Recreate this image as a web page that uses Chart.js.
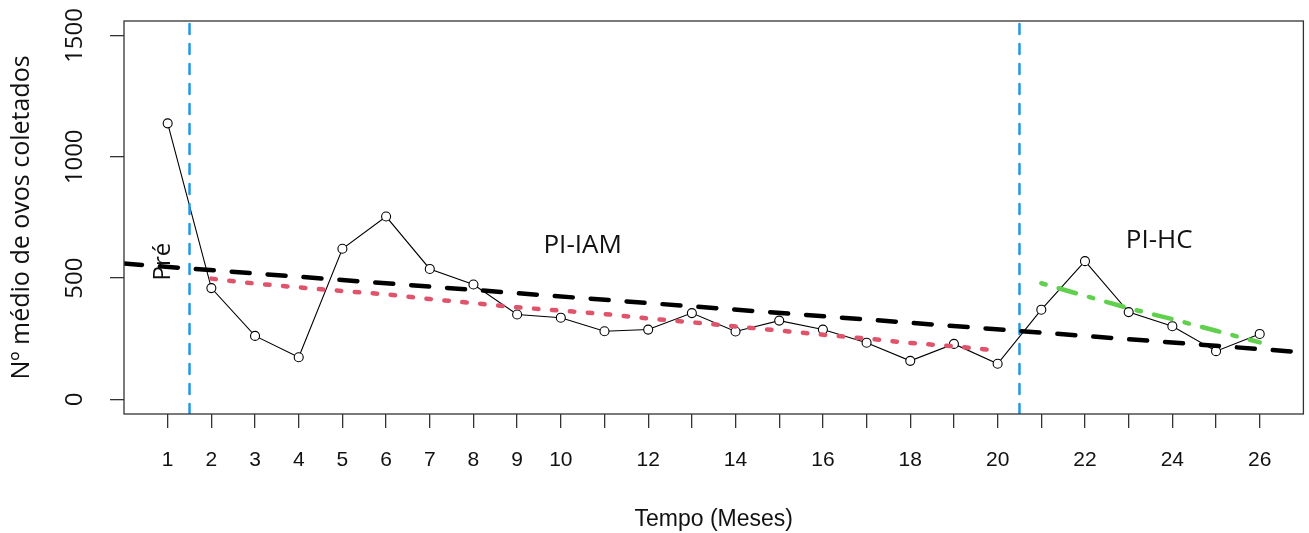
<!DOCTYPE html>
<html>
<head>
<meta charset="utf-8">
<script src="https://cdn.jsdelivr.net/npm/chart.js@4.4.1/dist/chart.umd.min.js"></script>
<style>
  html, body { margin: 0; padding: 0; background: #fff; }
  canvas { display: block; }
</style>
</head>
<body>
<canvas id="chart" width="1309" height="533"></canvas>
<script>
// média mensal de ovos coletados
const months = [1, 2, 3, 4, 5, 6, 7, 8, 9, 10, 11, 12, 13, 14, 15, 16, 17, 18, 19, 20, 21, 22, 23, 24, 25, 26];
const eggs = [1138, 459, 262, 174, 621, 754, 538, 474, 350, 337, 281, 288, 356, 280, 325, 288, 234, 159, 229, 147, 370, 570, 360, 302, 199, 270];

// ajuste PI-IAM (vermelho)
const iamMonths = [2, 3, 4, 5, 6, 7, 8, 9, 10, 11, 12, 13, 14, 15, 16, 17, 18, 19, 20];
const iamFit = [498, 478, 462, 447, 433, 414, 397, 380, 366, 352, 334, 318, 301, 284, 267, 251, 233, 219, 201];

// ajuste PI-HC (verde)
const hcMonths = [21, 22, 23, 24, 25, 26];
const hcFit = [479, 427, 376, 331, 283, 235];

// tendência geral (preto)
const trendMonths = [0, 27];
const trendFit = [560, 194];

// mudanças de fase
const phaseBreaks = [1.5, 20.5];

const xTicks = months;
const xLabels = [1, 2, 3, 4, 5, 6, 7, 8, 9, 10, 12, 14, 16, 18, 20, 22, 24, 26];
const yTicks = [0, 500, 1000, 1500];
const yMin = -60, yMax = 1560;

const notes = [
  { text: 'Pré', x: 1.05, y: 568, rotate: true, size: 24 },
  { text: 'PI-IAM', x: 10.5, y: 603, rotate: false, size: 26 },
  { text: 'PI-HC', x: 23.7, y: 624, rotate: false, size: 26 }
];

const pts = (xs, ys) => xs.map((v, i) => ({ x: v, y: ys[i] }));
const W = 4.5;

const rDecor = {
  id: 'rDecor',
  afterDraw(chart) {
    const { ctx, chartArea: a, scales: { x, y } } = chart;
    ctx.save();
    ctx.strokeStyle = '#333';
    ctx.lineWidth = 1.3;
    ctx.strokeRect(a.left, a.top, a.right - a.left, a.bottom - a.top);

    ctx.fillStyle = '#111';
    ctx.textAlign = 'center';
    ctx.textBaseline = 'alphabetic';
    ctx.font = '24px "Open Sans"';
    yTicks.forEach(v => {
      ctx.save();
      ctx.translate(a.left - 42, y.getPixelForValue(v));
      ctx.rotate(-Math.PI / 2);
      ctx.fillText(String(v), 0, 0);
      ctx.restore();
    });

    notes.forEach(n => {
      ctx.save();
      ctx.font = n.size + 'px "Open Sans"';
      ctx.translate(x.getPixelForValue(n.x), y.getPixelForValue(n.y));
      if (n.rotate) ctx.rotate(-Math.PI / 2);
      ctx.fillText(n.text, 0, 0);
      ctx.restore();
    });
    ctx.restore();
  }
};

const datasets = [
  {
    data: pts(hcMonths, hcFit),
    borderColor: '#61D04F', borderWidth: W,
    borderDash: [W, 3 * W, 4 * W, 3 * W], borderCapStyle: 'round',
    pointRadius: 0, tension: 0, clip: 0
  },
  {
    data: pts(iamMonths, iamFit),
    borderColor: '#DF536B', borderWidth: W,
    borderDash: [W, 3 * W], borderCapStyle: 'round',
    pointRadius: 0, cubicInterpolationMode: 'monotone', clip: 0
  },
  {
    data: pts(trendMonths, trendFit),
    borderColor: '#000', borderWidth: W,
    borderDash: [4 * W, 4 * W], borderCapStyle: 'round',
    pointRadius: 0, tension: 0, clip: 0
  },
  ...phaseBreaks.map(b => ({
    data: [{ x: b, y: yMin }, { x: b, y: yMax }],
    borderColor: '#2297E6', borderWidth: 2.5,
    borderDash: [10, 10], borderCapStyle: 'round',
    pointRadius: 0, clip: 0
  })),
  {
    data: pts(months, eggs),
    borderColor: '#000', borderWidth: 1.1,
    pointStyle: 'circle', pointRadius: 4.5, pointBorderWidth: 1.1,
    pointBorderColor: '#000', pointBackgroundColor: '#fff',
    tension: 0, clip: 0
  }
];

new Chart(document.getElementById('chart'), {
  type: 'line',
  data: { datasets },
  options: {
    responsive: false,
    animation: false,
    devicePixelRatio: 1,
    layout: { padding: { top: 21, right: 2.5, left: 0, bottom: 0 } },
    plugins: { legend: { display: false }, tooltip: { enabled: false } },
    scales: {
      x: {
        type: 'linear', min: 0, max: 27,
        afterFit: s => { s.height = 119; },
        afterBuildTicks: s => { s.ticks = xTicks.map(v => ({ value: v })); },
        ticks: {
          autoSkip: false, maxRotation: 0, padding: 20, color: '#111',
          font: { family: 'Liberation Sans', size: 21, lineHeight: 1.2 },
          callback: v => xLabels.includes(v) ? String(v) : ''
        },
        grid: { drawOnChartArea: false, drawTicks: true, tickLength: 14, color: '#333', lineWidth: 1.3 },
        border: { display: false },
        title: {
          display: true, text: 'Tempo (Meses)', color: '#111',
          font: { family: 'Liberation Sans', size: 23, lineHeight: 1.2 },
          padding: { top: 0, bottom: 0 }
        }
      },
      y: {
        min: yMin, max: yMax,
        afterFit: s => { s.width = 124; },
        afterBuildTicks: s => { s.ticks = yTicks.map(v => ({ value: v })); },
        ticks: { display: false },
        grid: { drawOnChartArea: false, drawTicks: true, tickLength: 14, color: '#333', lineWidth: 1.3 },
        border: { display: false },
        title: {
          display: true, text: 'Nº médio de ovos coletados', color: '#111',
          font: { family: 'Open Sans', size: 25, lineHeight: 1.2 },
          padding: { top: 7, bottom: 0 }
        }
      }
    }
  },
  plugins: [rDecor]
});
</script>
</body>
</html>
